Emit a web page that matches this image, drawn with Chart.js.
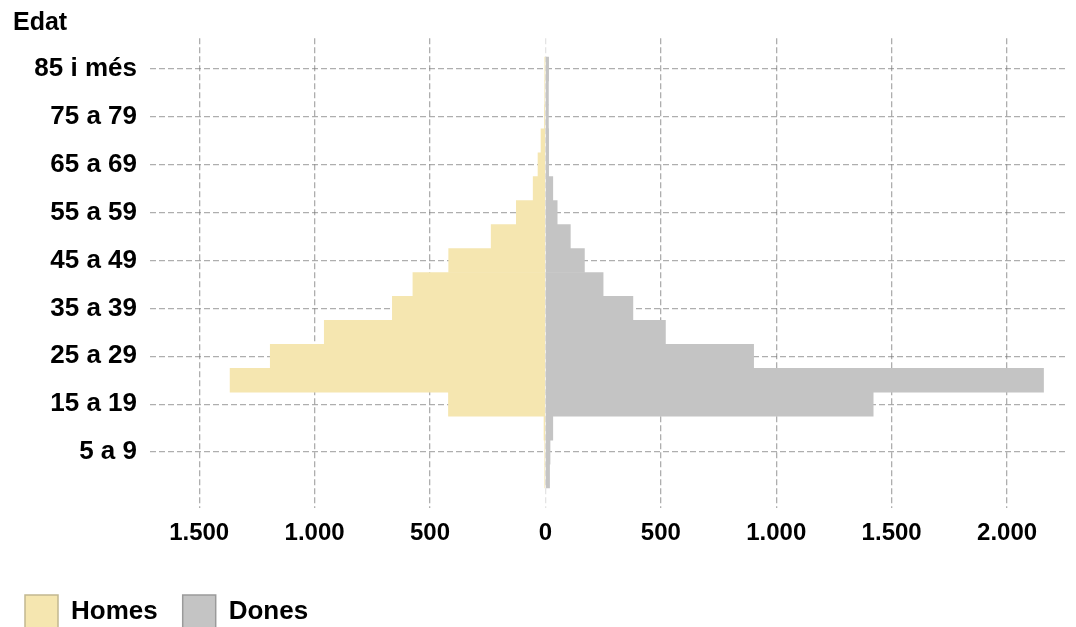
<!DOCTYPE html>
<html>
<head>
<meta charset="utf-8">
<script src="https://cdn.jsdelivr.net/npm/chart.js@4.4.1/dist/chart.umd.min.js"></script>
<style>
  html, body { margin: 0; padding: 0; background: #fff; overflow: hidden; }
  #wrap { position: relative; width: 1076px; height: 627px; }
  #edat {
    position: absolute; left: 13px; top: 6px;
    font: bold 25px "Liberation Sans", Arial, sans-serif; line-height: 30px; color: #000;
  }
</style>
</head>
<body>
<div id="wrap">
  <div id="edat">Edat</div>
  <canvas id="myChart"></canvas>
</div>
<script>
var ageLabels = ['0 a 4', '5 a 9', '10 a 14', '15 a 19', '20 a 24', '25 a 29', '30 a 34', '35 a 39', '40 a 44',
                 '45 a 49', '50 a 54', '55 a 59', '60 a 64', '65 a 69', '70 a 74', '75 a 79', '80 a 84', '85 i més'];
var homes = [3, 3, 6, 420, 1366, 1192, 958, 663, 574, 419, 235, 126, 53, 32, 19, 4, 3, 2];
var dones = [18, 20, 32, 1420, 2158, 902, 520, 379, 250, 169, 108, 51, 32, 14, 14, 13, 13, 14];
var shownAges = [1, 3, 5, 7, 9, 11, 13, 15, 17];
var xTicks = [-1500, -1000, -500, 0, 500, 1000, 1500, 2000];

var fontFamily = '"Liberation Sans", Arial, sans-serif';
var gridColor = 'rgba(120, 120, 120, 0.6)';

function thousands(v) {
    return String(Math.abs(v)).replace(/\B(?=(\d{3})+(?!\d))/g, '.');
}

var homesData = homes.map(function(v, i) { return { x: -v, y: i }; });
var donesData = dones.map(function(v, i) { return { x: v, y: i }; });

var ctx = document.getElementById('myChart').getContext('2d');
var myChart = new Chart(ctx, {
    type: 'bar',
    data: {
        datasets: [{
                label: 'Homes',
                data: homesData,
                backgroundColor: '#f5e6b0',
                borderColor: '#c2b890',
                borderWidth: 0,
                grouped: false,
                barPercentage: 1.0,
                categoryPercentage: 1.0
            },
            {
                label: 'Dones',
                data: donesData,
                backgroundColor: '#c4c4c4',
                borderColor: '#9a9a9a',
                borderWidth: 0,
                grouped: false,
                barPercentage: 1.0,
                categoryPercentage: 1.0
            }
        ]
    },
    options: {
        indexAxis: 'y',
        responsive: true,
        maintainAspectRatio: false,
        animation: false,
        layout: {
            padding: { top: 38.3, right: 8, bottom: -11, left: 0 }
        },
        scales: {
            x: {
                type: 'linear',
                min: -1713,
                max: 2264,
                z: 1,
                afterBuildTicks: function(scale) {
                    scale.ticks = xTicks.map(function(v) { return { value: v }; });
                },
                afterFit: function(scale) {
                    scale.height = 61.7;
                },
                ticks: {
                    padding: 11,
                    color: '#000',
                    font: { family: fontFamily, size: 24, weight: 'bold' },
                    callback: function(value) { return thousands(value); }
                },
                grid: {
                    drawTicks: false,
                    lineWidth: 1.3,
                    color: function(c) {
                        return (c.tick && c.tick.value === 0) ? 'rgba(120, 120, 120, 0.2)' : gridColor;
                    }
                },
                border: { display: false, dash: [6, 3] }
            },
            y: {
                type: 'linear',
                min: -1.346,
                max: 18.279,
                offset: false,
                z: 1,
                afterBuildTicks: function(scale) {
                    scale.ticks = shownAges.map(function(v) { return { value: v }; });
                },
                afterFit: function(scale) {
                    scale.width = 150;
                },
                ticks: {
                    padding: 13,
                    color: '#000',
                    font: { family: fontFamily, size: 26, weight: 'bold' },
                    callback: function(value) { return ageLabels[value]; }
                },
                grid: {
                    offset: false,
                    drawTicks: false,
                    lineWidth: 1.3,
                    color: gridColor
                },
                border: { display: false, dash: [6, 3] }
            }
        },
        plugins: {
            tooltip: { enabled: false },
            legend: {
                position: 'bottom',
                align: 'start',
                labels: {
                    boxWidth: 33,
                    boxHeight: 33,
                    padding: 25,
                    color: '#000',
                    font: { family: fontFamily, size: 26, weight: 'bold' },
                    generateLabels: function(chart) {
                        var items = Chart.defaults.plugins.legend.labels.generateLabels(chart);
                        items.forEach(function(item, i) {
                            item.lineWidth = 1.5;
                            item.strokeStyle = chart.data.datasets[i].borderColor;
                        });
                        return items;
                    }
                }
            }
        }
    }
});
</script>
</body>
</html>
